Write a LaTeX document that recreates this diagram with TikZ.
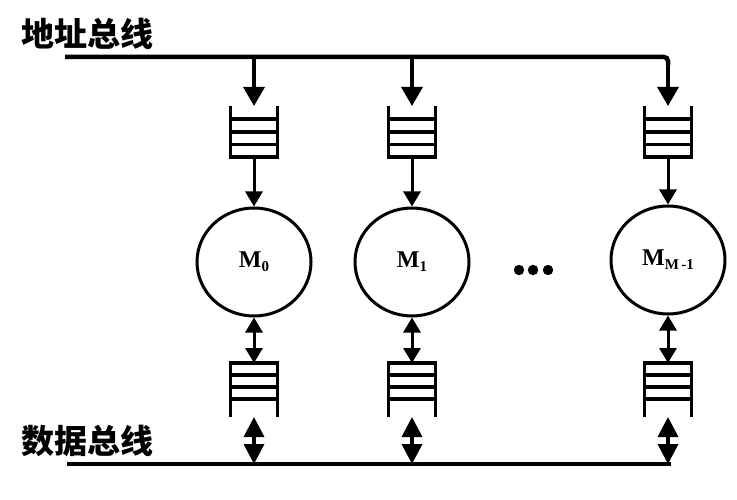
\documentclass[tikz,border=0pt]{standalone}
\usepackage{fontspec}
\setmainfont{Liberation Serif}
\newfontfamily\cjk{Noto Sans CJK SC}
\usetikzlibrary{arrows.meta,shapes.geometric}
\tikzset{
  bus/.style={line width=4.5pt},
  ql/.style={line width=3.8pt},
  queue/.style={rectangle, inner sep=0pt, outer sep=0pt, minimum width=47pt},
  qtop/.style={queue, minimum height=51pt},
  qbot/.style={queue, minimum height=54pt},
  mem/.style={ellipse, draw, line width=3pt, minimum width=114pt, minimum height=108pt, inner sep=0pt,
    font=\fontsize{24}{26}\selectfont\bfseries},
  busarr/.style={line width=3.5pt, -{Triangle[width=21pt,length=19pt]}},
  arr/.style={line width=3pt, -{Triangle[width=17pt,length=15pt]}},
  darr/.style={line width=3pt, {Triangle[width=17pt,length=15pt]}-{Triangle[width=17pt,length=15pt]}},
  darrb/.style={line width=3.5pt, {Triangle[width=20pt,length=20pt]}-{Triangle[width=20pt,length=20pt]}},
  lab/.style={font=\cjk\bfseries\fontsize{33}{35}\selectfont, anchor=west, inner sep=0pt}
}
\newcommand{\msub}[1]{M\raisebox{-4pt}{\fontsize{15}{16}\selectfont #1}}
\begin{document}
\begin{tikzpicture}[x=1pt,y=-1pt]
\useasboundingbox (0,0) rectangle (737,500);
% labels
\node[lab] (alab) at (21,34) {地址总线};
\node[lab] (dlab) at (21,441) {数据总线};
% bus coordinates
\coordinate (abL) at (65,57);
\coordinate (ab0) at (254,57);
\coordinate (ab1) at (412,57);
\coordinate (abR) at (668,57);
\coordinate (dbL) at (67,464);
\coordinate (db0) at (254,464);
\coordinate (db1) at (412,464);
\coordinate (db2) at (668,464);
\coordinate (dbR) at (671,464);
% queues
\foreach \i/\x in {0/254,1/412,2/668}{
  \node[qtop] (qa\i) at (\x,131.5) {};
  \node[qbot] (qb\i) at (\x,390) {};
}
% memories
\node[mem] (m0) at (254,262) {\msub{0}};
\node[mem] (m1) at (412,262) {\msub{1}};
\node[mem] (m2) at (668,260) {\msub{M\,-1}};
% dots
\foreach \x in {519,533,548} \fill (\x,270) circle (5.2);
% queue drawings
\foreach \n in {qa0,qa1,qa2}{
  \draw[ql] (\n.north west) -- (\n.south west) -- (\n.south east) -- (\n.north east);
  \foreach \d in {12.5,25,38}
    \draw[ql] ([yshift=\d pt]\n.south west) -- ([yshift=\d pt]\n.south east);
}
\foreach \n in {qb0,qb1,qb2}{
  \draw[ql] (\n.south west) -- (\n.north west) -- (\n.north east) -- (\n.south east);
  \foreach \d in {12,24,36}
    \draw[ql] ([yshift=-\d pt]\n.north west) -- ([yshift=-\d pt]\n.north east);
}
% buses
\draw[bus] (abL) -- ([xshift=-4pt]abR) to[out=0,in=90] ([yshift=-4pt]abR) -- ([yshift=-8pt]abR);
\draw[bus] (dbL) -- (dbR);
% arrows
\draw[busarr] (ab0) -- (qa0.north);
\draw[busarr] (ab1) -- (qa1.north);
\draw[busarr] ([yshift=-6pt]abR) -- (qa2.north);
\foreach \i in {0,1,2}{
  \draw[arr] (qa\i.south) -- (m\i.north);
  \draw[darr] (m\i.south) -- (qb\i.north);
  \draw[darrb] (qb\i.south) -- (db\i);
}
\end{tikzpicture}
\end{document}
